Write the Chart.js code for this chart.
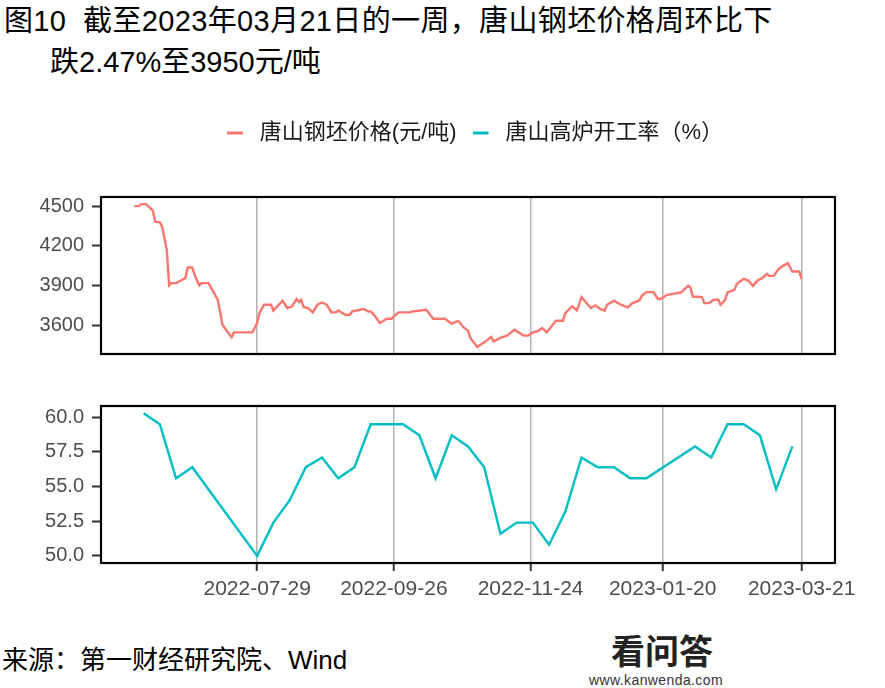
<!DOCTYPE html>
<html>
<head>
<meta charset="utf-8">
<script src="https://cdn.jsdelivr.net/npm/chart.js@4.4.0/dist/chart.umd.min.js"></script>
<style>
  html, body { margin:0; padding:0; background:#fff; width:885px; height:688px; overflow:hidden; }
  body { position:relative; font-family:"Liberation Sans","Noto Sans CJK SC",sans-serif; }
  .title { position:absolute; left:4px; top:1px; font-size:29px; line-height:41px; color:#000; white-space:nowrap; letter-spacing:0.35px; }
  .title .l2 { display:block; padding-left:46px; letter-spacing:0; }
  #w1 { position:absolute; left:0; top:100px; width:885px; height:274px; }
  #w2 { position:absolute; left:0; top:380px; width:885px; height:223px; }
  .source { position:absolute; left:2px; top:645px; font-size:26px; line-height:30px; color:#000; white-space:nowrap; }
  .wm1 { position:absolute; left:611px; top:631px; font-size:34px; font-weight:bold; color:#222; line-height:38px; font-family:"Noto Sans CJK SC",sans-serif; }
  .wm2 { position:absolute; left:589px; top:672px; font-size:14px; color:#333; line-height:16px; letter-spacing:0.4px; }
</style>
</head>
<body>
<div class="title"><span>图10&nbsp; 截至2023年03月21日的一周，唐山钢坯价格周环比下</span><span class="l2">跌2.47%至3950元/吨</span></div>
<div id="w1"><canvas id="c1" width="885" height="274"></canvas></div>
<div id="w2"><canvas id="c2" width="885" height="223"></canvas></div>
<div class="source">来源：第一财经研究院、Wind</div>
<div class="wm1">看问答</div>
<div class="wm2">www.kanwenda.com</div>
<script>
// ---------------- data ----------------
const seriesNames = ['唐山钢坯价格(元/吨)', '唐山高炉开工率（%）'];
const xTickDates = ['2022-07-29', '2022-09-26', '2022-11-24', '2023-01-20', '2023-03-21'];
const priceTicks = [3600, 3900, 4200, 4500];
const furnaceTicks = [50.0, 52.5, 55.0, 57.5, 60.0];

const priceDates = [
  '2022-06-06','2022-06-08','2022-06-09','2022-06-11','2022-06-13','2022-06-14','2022-06-15','2022-06-17','2022-06-18','2022-06-20',
  '2022-06-21','2022-06-22','2022-06-24','2022-06-26','2022-06-28','2022-06-29','2022-07-01','2022-07-02','2022-07-04','2022-07-05',
  '2022-07-08','2022-07-10','2022-07-12','2022-07-13','2022-07-14','2022-07-16','2022-07-18','2022-07-19','2022-07-27','2022-07-29',
  '2022-07-30','2022-08-01','2022-08-04','2022-08-05','2022-08-09','2022-08-11','2022-08-13','2022-08-15','2022-08-16','2022-08-17',
  '2022-08-18','2022-08-20','2022-08-22','2022-08-24','2022-08-26','2022-08-28','2022-08-30','2022-09-01','2022-09-02','2022-09-05',
  '2022-09-07','2022-09-08','2022-09-10','2022-09-13','2022-09-15','2022-09-16','2022-09-18','2022-09-20','2022-09-23','2022-09-25',
  '2022-09-28','2022-10-03','2022-10-04','2022-10-10','2022-10-13','2022-10-18','2022-10-21','2022-10-23','2022-10-24','2022-10-26',
  '2022-10-28','2022-10-29','2022-11-01','2022-11-04','2022-11-07','2022-11-08','2022-11-11','2022-11-14','2022-11-17','2022-11-21',
  '2022-11-23','2022-11-25','2022-11-27','2022-11-29','2022-12-01','2022-12-05','2022-12-08','2022-12-09','2022-12-12','2022-12-14',
  '2022-12-16','2022-12-20','2022-12-22','2022-12-24','2022-12-26','2022-12-27','2022-12-30','2023-01-02','2023-01-05','2023-01-07',
  '2023-01-10','2023-01-11','2023-01-13','2023-01-16','2023-01-18','2023-01-19','2023-01-22','2023-01-28','2023-01-31','2023-02-01',
  '2023-02-02','2023-02-06','2023-02-07','2023-02-09','2023-02-11','2023-02-13','2023-02-14','2023-02-16','2023-02-17','2023-02-20',
  '2023-02-21','2023-02-24','2023-02-26','2023-02-28','2023-03-02','2023-03-04','2023-03-06','2023-03-07','2023-03-09','2023-03-11',
  '2023-03-13','2023-03-15','2023-03-17','2023-03-20','2023-03-21'
];
const priceValues = [
  4500,4500,4515,4515,4483,4465,4382,4377,4344,4168,
  3900,3917,3917,3937,3955,4035,4035,3980,3900,3917,
  3917,3855,3791,3703,3603,3553,3508,3545,3545,3616,
  3691,3754,3754,3710,3784,3729,3740,3797,3775,3791,
  3737,3729,3696,3754,3771,3754,3696,3696,3710,3678,
  3678,3703,3710,3722,3703,3703,3665,3616,3648,3648,
  3696,3696,3703,3716,3648,3648,3610,3628,3628,3584,
  3558,3503,3435,3469,3510,3477,3503,3522,3565,3520,
  3520,3545,3553,3578,3545,3633,3633,3691,3741,3710,
  3812,3729,3749,3722,3708,3754,3784,3754,3734,3766,
  3786,3821,3849,3849,3797,3797,3829,3847,3897,3884,
  3816,3812,3766,3766,3791,3791,3754,3791,3847,3867,
  3910,3950,3937,3897,3937,3955,3987,3972,3972,4023,
  4048,4068,4005,4005,3950
];

const furnaceDates = [
  '2022-06-10','2022-06-17','2022-06-24','2022-07-01','2022-07-29','2022-08-05','2022-08-12','2022-08-19','2022-08-26','2022-09-02',
  '2022-09-09','2022-09-16','2022-09-23','2022-09-30','2022-10-07','2022-10-14','2022-10-21','2022-10-28','2022-11-04','2022-11-11',
  '2022-11-18','2022-11-25','2022-12-02','2022-12-09','2022-12-16','2022-12-23','2022-12-30','2023-01-06','2023-01-13','2023-02-03',
  '2023-02-10','2023-02-17','2023-02-24','2023-03-03','2023-03-10','2023-03-17'
];
const furnaceValues = [
  60.3,59.5,55.6,56.4,50.0,52.4,54.0,56.4,57.1,55.6,
  56.4,59.5,59.5,59.5,58.7,55.6,58.7,57.9,56.4,51.6,
  52.4,52.4,50.8,53.2,57.1,56.4,56.4,55.6,55.6,57.9,
  57.1,59.5,59.5,58.7,54.8,57.9
];

// ---------------- helpers ----------------
const FONT = '"Liberation Sans","Noto Sans CJK SC",sans-serif';
const RED = '#F8766D', TEAL = '#00BFC4';
const DAY = 86400000;
const toDay = s => Date.UTC(+s.slice(0,4), +s.slice(5,7)-1, +s.slice(8,10)) / DAY;
const fmtDay = d => new Date(Math.round(d)*DAY).toISOString().slice(0,10);
const pts = (ds, vs) => ds.map((d,i) => ({x: toDay(d), y: vs[i]}));
const expand = (arr) => { const lo = Math.min(...arr), hi = Math.max(...arr), p = (hi-lo)*0.05; return [lo-p, hi+p]; };

const [xMin, xMax] = expand(priceDates.concat(furnaceDates).map(toDay));
const [pMin, pMax] = expand(priceValues);
const [fMin, fMax] = expand(furnaceValues);

const panelBox = {
  id: 'panelBox',
  afterDatasetsDraw(chart) {
    const a = chart.chartArea, ctx = chart.ctx;
    ctx.save();
    ctx.strokeStyle = '#000'; ctx.lineWidth = 2.2;
    ctx.strokeRect(a.left, a.top, a.right - a.left, a.bottom - a.top);
    ctx.restore();
  }
};
const legendGap = {
  id: 'legendGap',
  beforeInit(chart) {
    const orig = chart.legend.fit;
    chart.legend.fit = function() { orig.call(this); this.height = 91; };
  },
  afterLayout(chart) {
    const lg = chart.legend;
    lg.left += 7; lg.right += 7;
    if (lg.legendHitBoxes) lg.legendHitBoxes.forEach(h => { h.left += 7; });
  }
};
function swatch(color) {
  const c = document.createElement('canvas');
  c.width = 22; c.height = 4;
  const g = c.getContext('2d');
  g.fillStyle = color; g.fillRect(0, 0.5, 16, 3);
  return c;
}

const xBase = () => ({
  type: 'linear', min: xMin, max: xMax,
  afterBuildTicks: s => { s.ticks = xTickDates.map(d => ({value: toDay(d)})); },
  border: { display: false }
});
const yBase = (mn, mx, ticks, fmt) => ({
  min: mn, max: mx,
  afterBuildTicks: s => { s.ticks = ticks.map(v => ({value: v})); },
  afterFit: s => { s.width = 101; },
  border: { display: false },
  grid: { display: true, drawOnChartArea: false, drawTicks: true, tickLength: 9, tickColor: '#333', tickWidth: 2 },
  ticks: { color: '#4d4d4d', font: { family: FONT, size: 20 }, padding: 8, callback: fmt }
});

// ---------------- top chart ----------------
new Chart(document.getElementById('c1'), {
  type: 'line',
  data: { datasets: [{
    label: seriesNames[0], data: pts(priceDates, priceValues),
    borderColor: RED, borderWidth: 2.4, pointRadius: 0, tension: 0, fill: false
  }]},
  options: {
    responsive: false, animation: false, events: [],
    layout: { autoPadding: false, padding: { top: 6, bottom: 6, left: 0, right: 50 } },
    plugins: {
      tooltip: { enabled: false },
      legend: {
        position: 'top', fullSize: false,
        labels: {
          usePointStyle: true, pointStyleWidth: 22, padding: 16, color: '#1a1a1a',
          font: { family: FONT, size: 22 },
          generateLabels: () => [
            { text: seriesNames[0], pointStyle: swatch(RED), fillStyle: RED, strokeStyle: RED, lineWidth: 0, hidden: false, fontColor: '#1a1a1a' },
            { text: seriesNames[1], pointStyle: swatch(TEAL), fillStyle: TEAL, strokeStyle: TEAL, lineWidth: 0, hidden: false, fontColor: '#1a1a1a' }
          ]
        }
      }
    },
    scales: {
      x: Object.assign(xBase(), {
        afterFit: s => { s.height = 14; },
        grid: { color: '#b3b3b3', lineWidth: 1.5, drawTicks: false },
        ticks: { display: false }
      }),
      y: yBase(pMin, pMax, priceTicks, v => String(v))
    }
  },
  plugins: [panelBox, legendGap]
});

// ---------------- bottom chart ----------------
new Chart(document.getElementById('c2'), {
  type: 'line',
  data: { datasets: [{
    label: seriesNames[1], data: pts(furnaceDates, furnaceValues),
    borderColor: TEAL, borderWidth: 2.4, pointRadius: 0, tension: 0, fill: false
  }]},
  options: {
    responsive: false, animation: false, events: [],
    layout: { autoPadding: false, padding: { top: 26, bottom: 0, left: 0, right: 50 } },
    plugins: { legend: { display: false }, tooltip: { enabled: false } },
    scales: {
      x: Object.assign(xBase(), {
        afterFit: s => { s.height = 40; },
        grid: { color: '#b3b3b3', lineWidth: 1.5, drawTicks: true, tickLength: 8, tickColor: '#333', tickWidth: 2 },
        ticks: { color: '#4d4d4d', font: { family: FONT, size: 21 }, padding: 6, maxRotation: 0, autoSkip: false, callback: v => fmtDay(v) }
      }),
      y: yBase(fMin, fMax, furnaceTicks, v => v.toFixed(1))
    }
  },
  plugins: [panelBox]
});
</script>
</body>
</html>
